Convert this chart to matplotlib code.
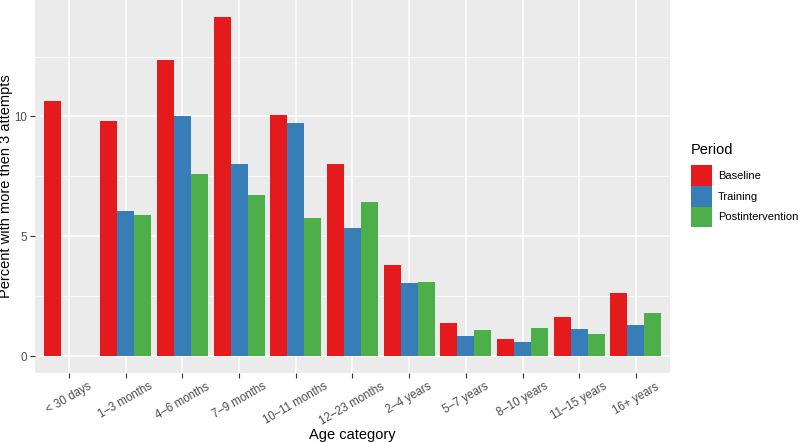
import matplotlib.pyplot as plt
import numpy as np
from matplotlib.patches import Patch

categories = ['< 30 days', '1\u20133 months', '4\u20136 months', '7\u20139 months',
              '10\u201311 months', '12\u201323 months', '2\u20134 years', '5\u20137 years',
              '8\u201310 years', '11\u201315 years', '16+ years']
baseline = [10.65, 9.83, 12.35, 14.14, 10.04, 8.0, 3.82, 1.36, 0.72, 1.65, 2.64]
training = [0.0, 6.04, 10.0, 8.02, 9.71, 5.35, 3.04, 0.83, 0.6, 1.15, 1.29]
postint = [0.0, 5.88, 7.6, 6.74, 5.77, 6.42, 3.07, 1.1, 1.18, 0.93, 1.81]
periods = ['Baseline', 'Training', 'Postintervention']
colors = ['#E41A1C', '#377EB8', '#4DAF4A']

plt.rcParams['font.family'] = ['Liberation Sans', 'DejaVu Sans']

fig = plt.figure(figsize=(8, 4.42), dpi=100)
ax = fig.add_axes([35/800, 69/442, 635/800, 373/442])
ax.set_facecolor('#EBEBEB')
for s in ax.spines.values():
    s.set_visible(False)

x = np.arange(1, len(categories) + 1)
w = 0.3
for i, (vals, col) in enumerate(zip([baseline, training, postint], colors)):
    ax.bar(x + (i - 1) * w, vals, width=w, color=col, zorder=3)

ymax = max(baseline)
ax.set_ylim(-0.05 * ymax, 14.86)
ax.set_xlim(0.4, len(categories) + 0.6)

# grid like ggplot
for yv in [2.5, 7.5, 12.5]:
    ax.axhline(yv, color='white', lw=0.6, zorder=1)
for yv in [0, 5, 10]:
    ax.axhline(yv, color='white', lw=1.2, zorder=1)
for xv in x:
    ax.axvline(xv, color='white', lw=1.2, zorder=1)

ax.set_yticks([0, 5, 10])
ax.set_xticks(x)
ax.set_xticklabels(categories, rotation=30, ha='center', va='top')
ax.tick_params(axis='both', colors='#333333', labelcolor='#4D4D4D', labelsize=8.3,
               length=3.5, width=0.8, pad=2)

ax.set_xlabel('Age category', fontsize=10.5, color='black')
ax.xaxis.set_label_coords(0.5, (373 - 428) / 373)
ax.set_ylabel('Percent with more then 3 attempts', fontsize=10.5, color='black')
ax.yaxis.set_label_coords((13 - 35) / 635, 0.5)

fig.text(691/800, 1 - 150/442, 'Period', fontsize=10.5, ha='left', va='center')
handles = [Patch(facecolor=c, edgecolor='none') for c in colors]
leg = fig.legend(handles, periods, loc='upper left', bbox_to_anchor=(691/800, 1 - 165/442),
                 frameon=False, fontsize=8,
                 handlelength=1.9, handleheight=2.5, handletextpad=0.55, labelspacing=0.0,
                 borderaxespad=0, borderpad=0)

fig.savefig('out.png', dpi=100)
